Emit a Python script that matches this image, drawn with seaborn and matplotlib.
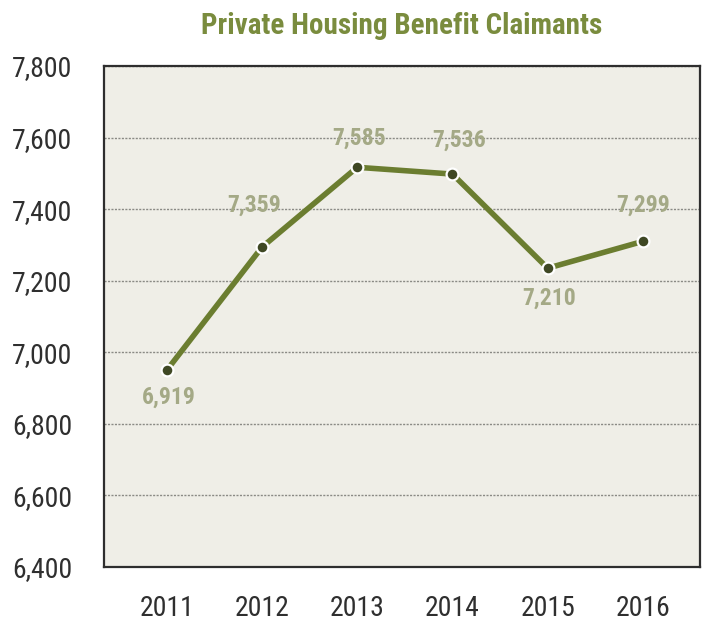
import pandas as pd
import numpy as np
import matplotlib.pyplot as plt
import seaborn as sns
from matplotlib import font_manager

# datos
years = [2011, 2012, 2013, 2014, 2015, 2016]
claimants = [6950, 7294, 7517, 7498, 7235, 7310]   # posición dibujada
label_text = ["6,919", "7,359", "7,585", "7,536", "7,210", "7,299"]
label_offset = [(2, -27), (-8, 42), (2, 29), (7, 34), (1, -30), (0, 36)]
y_ticks = [6400, 6600, 6800, 7000, 7200, 7400, 7600, 7800]

df = pd.DataFrame({"Year": years, "Claimants": claimants})

# buscar una fuente estrecha instalada
installed = {f.name for f in font_manager.fontManager.ttflist}
narrow = 'DejaVu Sans'
for name in ['Roboto Condensed', 'Archivo Narrow', 'PT Sans Narrow',
             'Barlow Condensed', 'Liberation Sans Narrow', 'Open Sans Condensed']:
    if name in installed:
        narrow = name
        break

sns.set_style("white")
plt.rcParams['font.family'] = [narrow, 'DejaVu Sans']

fig = plt.figure(figsize=(7.06, 6.21), dpi=100)
ax = fig.add_axes([0.1473, 0.087, 0.8442, 0.8067])
ax.set_facecolor('#efeee7')

sns.lineplot(data=df, x='Year', y='Claimants', ax=ax, color='#6b7d30',
             linewidth=4.0, marker='o', markersize=8.5,
             markerfacecolor='#3f4824', markeredgecolor='white',
             markeredgewidth=1.6, zorder=3)

for x, y, t, off in zip(years, claimants, label_text, label_offset):
    ax.annotate(t, (x, y), xytext=off, textcoords='offset pixels',
                ha='center', va='center', fontsize=17, fontweight='bold',
                color='#a4a986')

ax.set_ylim(6400, 7800)
ax.set_xlim(2010.34, 2016.6)
ax.set_yticks(y_ticks)
ax.set_yticklabels([f"{v:,}" for v in y_ticks])
ax.set_xticks(years)
ax.set_xticklabels([str(y) for y in years])
ax.tick_params(axis='y', length=0, pad=23, labelsize=20, labelcolor='#2f2f2f')
ax.tick_params(axis='x', length=0, pad=20, labelsize=20, labelcolor='#2f2f2f')
ax.yaxis.grid(True, color='#8a8a85', linestyle=(0, (1.5, 1)), linewidth=1.0)
ax.xaxis.grid(False)
for s in ax.spines.values():
    s.set_visible(True)
    s.set_color('#2e2e2e')
    s.set_linewidth(1.6)

ax.set_xlabel('')
ax.set_ylabel('')
ax.set_title('Private Housing Benefit Claimants', fontsize=21, fontweight='bold',
             color='#7a8c3e', pad=23)

fig.savefig('out.png', dpi=100)
